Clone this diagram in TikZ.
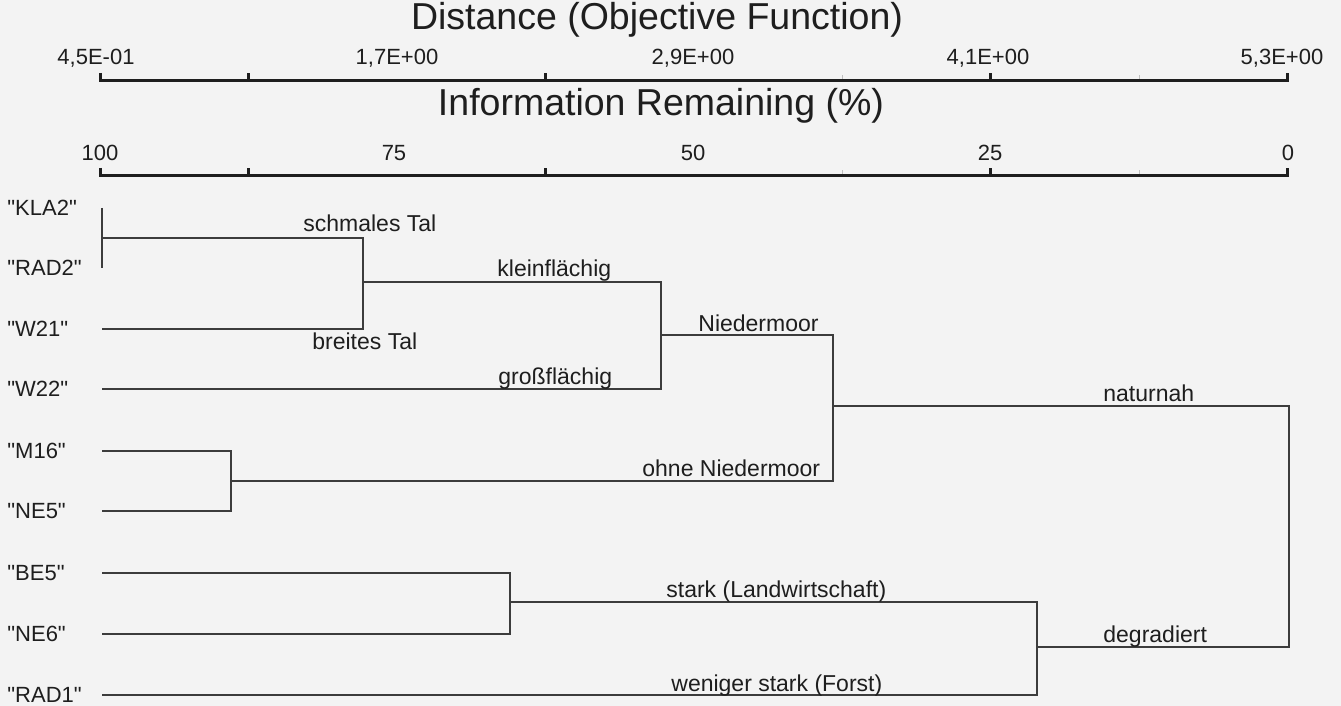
\documentclass[tikz,border=0pt]{standalone}
\usepackage{fontspec}
\setmainfont{Liberation Sans}
\newfontfamily\leaffont{Liberation Sans}[Ligatures=ResetAll]
\definecolor{paper}{HTML}{F3F3F3}
\definecolor{ink}{HTML}{1E1E1E}
\definecolor{branch}{HTML}{3C3C3C}
\tikzset{
  leaf/.style={anchor=west, inner sep=0pt, text=ink, font=\leaffont\fontsize{11}{13}\selectfont},
  twig/.style={anchor=base west, inner sep=0pt, text=ink, font=\fontsize{11.5}{13}\selectfont},
  scalenum/.style={inner sep=0pt, text=ink, font=\fontsize{11}{13}\selectfont},
  scaletitle/.style={inner sep=0pt, text=ink, font=\fontsize{18.75}{22}\selectfont},
  scaleline/.style={line width=1.5pt, ink},
  faint/.style={line width=0.5pt, black!25},
  tree/.style={line width=0.75pt, branch}
}
\begin{document}
\begin{tikzpicture}[x=0.5pt, y=-0.5pt]
      \fill[paper] (0,0) rectangle (1341,706);
      \useasboundingbox (0,0) rectangle (1341,706);
      % scales
      \node[scaletitle] (distance) at (657,20) {Distance (Objective Function)};
      \node[scaletitle] (remaining) at (661,106) {Information Remaining (\%)};
      \node[scalenum] (d0) at (96,58) {4,5E-01};
      \node[scalenum] (d1) at (397,58) {1,7E+00};
      \node[scalenum] (d2) at (693,58) {2,9E+00};
      \node[scalenum] (d3) at (988,58) {4,1E+00};
      \node[scalenum] (d4) at (1282,58) {5,3E+00};
      \node[scalenum] (p0) at (100,153) {100};
      \node[scalenum] (p1) at (394,153) {75};
      \node[scalenum] (p2) at (693,153) {50};
      \node[scalenum] (p3) at (990,153) {25};
      \node[scalenum] (p4) at (1288,153) {0};
      \begin{scope}[faint]
        \draw (842,81) -- (842,75) (1139,81) -- (1139,75);
        \draw (842,176) -- (842,170) (1139,176) -- (1139,170);
      \end{scope}
      \begin{scope}[scaleline]
        \draw (100,73) -- (100,81) -- (1287,81) -- (1287,73);
        \draw (248,81) -- (248,73) (545,81) -- (545,73) (990,81) -- (990,73);
        \draw (100,168) -- (100,176) -- (1287,176) -- (1287,168);
        \draw (248,176) -- (248,168) (545,176) -- (545,168) (990,176) -- (990,168);
      \end{scope}
      % leaves
      \node[leaf] (kla2) at (7,208) {"KLA2"};
      \node[leaf] (rad2) at (7,268) {"RAD2"};
      \node[leaf] (w21) at (7,329) {"W21"};
      \node[leaf] (w22) at (7,389) {"W22"};
      \node[leaf] (m16) at (7,451) {"M16"};
      \node[leaf] (ne5) at (7,511) {"NE5"};
      \node[leaf] (be5) at (7,573) {"BE5"};
      \node[leaf] (ne6) at (7,634) {"NE6"};
      \node[leaf] (rad1) at (7,695) {"RAD1"};
      \coordinate (l1) at (102,208);
      \coordinate (l2) at (102,268);
      \coordinate (l3) at (102,329);
      \coordinate (l4) at (102,389);
      \coordinate (l5) at (102,451);
      \coordinate (l6) at (102,511);
      \coordinate (l7) at (102,573);
      \coordinate (l8) at (102,634);
      \coordinate (l9) at (102,695);
      % junctions
      \coordinate (j1) at (102,238);
      \coordinate (j2) at (363,282);
      \coordinate (j3) at (661,335);
      \coordinate (j4) at (231,481);
      \coordinate (j5) at (833,406);
      \coordinate (j6) at (510,602);
      \coordinate (j7) at (1037,647);
      \coordinate (j8) at (1289,526);
      \begin{scope}[tree]
        \draw (l1) -| (j1) |- (l2);
        \draw (j1) -| (j2) |- (l3);
        \draw (j2) -| (j3) |- (l4);
        \draw (l5) -| (j4) |- (l6);
        \draw (j3) -| (j5) |- (j4);
        \draw (l7) -| (j6) |- (l8);
        \draw (j6) -| (j7) |- (l9);
        \draw (j5) -| (j8) |- (j7);
      \end{scope}
      % branch labels
      \node[twig] (schmal) at (303,232) {schmales Tal};
      \node[twig] (breit) at (312,350) {breites Tal};
      \node[twig] (klein) at (497,277) {kleinflächig};
      \node[twig] (gross) at (498,385) {großflächig};
      \node[twig] (moor) at (698,331) {Niedermoor};
      \node[twig] (ohnemoor) at (642,476) {ohne Niedermoor};
      \node[twig] (naturnah) at (1103,401) {naturnah};
      \node[twig] (stark) at (666,597) {stark (Landwirtschaft)};
      \node[twig] (degradiert) at (1103,642) {degradiert};
      \node[twig] (forst) at (671,691) {weniger stark (Forst)};
\end{tikzpicture}
\end{document}
